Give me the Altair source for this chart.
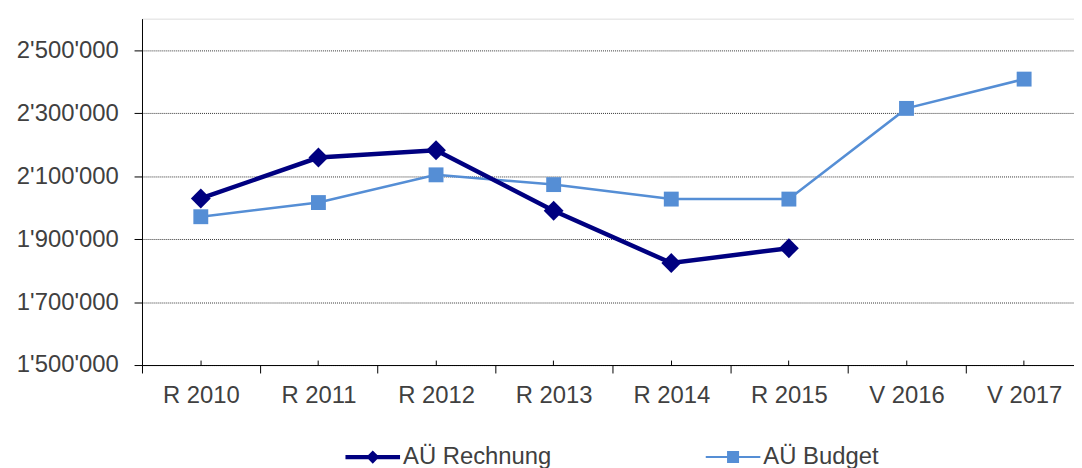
import altair as alt
import pandas as pd

categories = ["R 2010", "R 2011", "R 2012", "R 2013", "R 2014", "R 2015", "V 2016", "V 2017"]
rechnung = [2029000, 2159000, 2182000, 1990000, 1824000, 1871000, None, None]
budget = [1971000, 2016000, 2104000, 2073000, 2027000, 2027000, 2315000, 2408000]
series_names = ["AÜ Rechnung", "AÜ Budget"]
series_colors = ["#000080", "#558ED5"]
y_ticks = [1500000, 1700000, 1900000, 2100000, 2300000, 2500000]

rows = []
for c, r, b in zip(categories, rechnung, budget):
    if r is not None:
        rows.append({"cat": c, "series": "AÜ Rechnung", "value": r})
    rows.append({"cat": c, "series": "AÜ Budget", "value": b})
df = pd.DataFrame(rows)
df_r = df[df.series == "AÜ Rechnung"]
df_b = df[df.series == "AÜ Budget"]

FONT = "Liberation Sans"
TXT = "#404040"

xscale = alt.Scale(type="band", domain=categories, range=[0, 948], paddingInner=0, paddingOuter=0)
yscale = alt.Scale(domain=[1500000, 2600000], nice=False, zero=False)

yenc = alt.Y("value:Q", scale=yscale, axis=alt.Axis(
    values=y_ticks, title=None,
    labelExpr="replace(format(datum.value, ','), regexp(',', 'g'), \"'\")",
    grid=True, gridDash=[1, 1], gridColor="#333333", gridWidth=1,
    tickSize=8, tickColor="#000000", domainColor="#000000",
    labelFontSize=24, labelFont=FONT, labelColor=TXT, labelPadding=16))

x_main = alt.X("cat:N", scale=xscale, sort=categories, axis=alt.Axis(
    title=None, labelAngle=0, labelFontSize=24, labelFont=FONT, labelColor=TXT,
    labelPadding=11, tickSize=8, tickBand="extent", tickColor="#000000",
    domainColor="#000000", grid=False, orient="bottom"))
x_center = alt.X("cat:N", scale=xscale, sort=categories, axis=alt.Axis(
    title=None, labels=False, domain=False, ticks=True, tickSize=5,
    tickColor="#000000", grid=False, orient="bottom", offset=-5))
x_none = alt.X("cat:N", scale=xscale, sort=categories, axis=None)

b_line = alt.Chart(df_b).mark_line(color=series_colors[1], strokeWidth=2.5).encode(x=x_main, y=yenc)
b_pts = alt.Chart(df_b).mark_point(shape="square", filled=True, size=225, opacity=1,
                                   color=series_colors[1]).encode(x=x_none, y=yenc)
r_line = alt.Chart(df_r).mark_line(color=series_colors[0], strokeWidth=4.5).encode(x=x_none, y=yenc)
r_pts = alt.Chart(df_r).mark_point(shape="diamond", filled=True, size=400, opacity=1,
                                   color=series_colors[0]).encode(x=x_none, y=yenc)

legend_paths = [
    "M-1,-0.08H1V0.08H-1Z M0,-0.24L0.24,0L0,0.24L-0.24,0Z",
    "M-1,-0.036H1V0.036H-1Z M-0.22,-0.22H0.22V0.22H-0.22Z",
]
leg = alt.Legend(title=None, orient="none", legendX=205, legendY=414, direction="horizontal",
                 labelFontSize=24, labelFont=FONT, labelColor=TXT, labelLimit=400,
                 symbolSize=3025, symbolStrokeWidth=0, symbolOpacity=1, padding=0,
                 labelOffset=3, columnPadding=155)
legend_layer = alt.Chart(df).mark_point(filled=True, opacity=0).encode(
    x=x_center, y=yenc,
    color=alt.Color("series:N", scale=alt.Scale(domain=series_names, range=series_colors), legend=leg),
    shape=alt.Shape("series:N", scale=alt.Scale(domain=series_names, range=legend_paths), legend=leg),
)

chart = alt.layer(b_line, b_pts, r_line, r_pts, legend_layer).resolve_axis(x="independent").properties(
    width=939, height=349,
    autosize=alt.AutoSizeParams(type="none"),
    padding={"left": 135, "top": 9, "right": 0, "bottom": 102},
).configure_view(stroke=None).configure(font=FONT)

chart.save("out.html", embed_options={"renderer": "svg", "actions": False})
